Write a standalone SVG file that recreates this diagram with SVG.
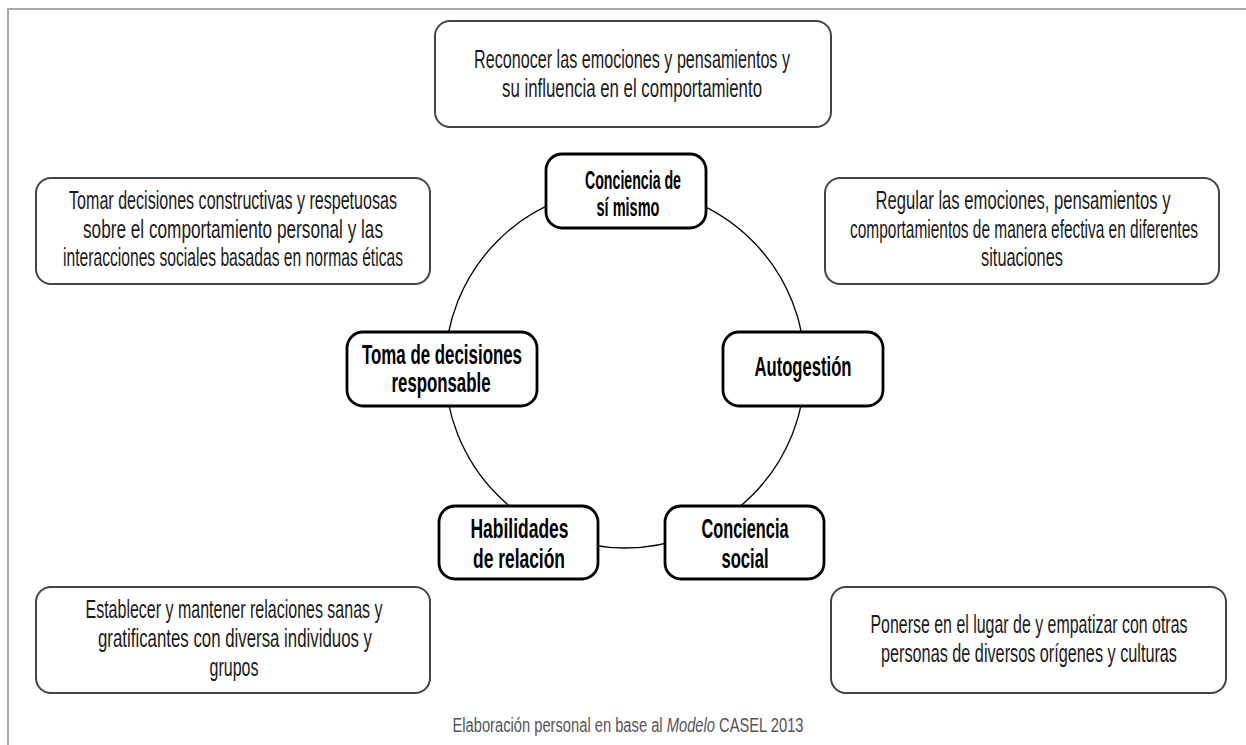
<svg xmlns="http://www.w3.org/2000/svg" width="1246" height="745" viewBox="0 0 1246 745">
<style>
.frame{fill:none;stroke:#a8a8a8;stroke-width:2}
.desc rect{fill:#fff;stroke:#444;stroke-width:2}
.node rect{fill:#fff;stroke:#000;stroke-width:2.8}
.dt{font-family:"Liberation Sans",Arial,sans-serif;font-size:25px;fill:#1a1a1a;text-anchor:middle}
.nt{font-family:"Liberation Sans",Arial,sans-serif;font-weight:bold;font-size:28px;fill:#000;text-anchor:middle}
.nt1{font-size:25px}
.ft{font-family:"Liberation Sans",Arial,sans-serif;font-size:20px;fill:#555;text-anchor:middle}
.conn{fill:none;stroke:#000;stroke-width:1.3}
</style>
<rect width="1246" height="745" fill="#fff"/>
<path class="frame" d="M8,745 V9 H1246"/>
<g id="connectors">
<circle class="conn" cx="625" cy="368" r="180"/>
</g>
<g id="desc-top" class="desc">
<rect x="435" y="21" width="396" height="106" rx="15"/>
<text class="dt" x="632" y="68" textLength="316" lengthAdjust="spacingAndGlyphs">Reconocer las emociones y pensamientos y</text>
<text class="dt" x="632" y="97" textLength="260" lengthAdjust="spacingAndGlyphs">su influencia en el comportamiento</text>
</g>
<g id="desc-left-top" class="desc">
<rect x="36" y="178" width="394" height="106" rx="15"/>
<text class="dt" x="233" y="209" textLength="328" lengthAdjust="spacingAndGlyphs">Tomar decisiones constructivas y respetuosas</text>
<text class="dt" x="233" y="237.5" textLength="300" lengthAdjust="spacingAndGlyphs">sobre el comportamiento personal y las</text>
<text class="dt" x="233" y="266" textLength="340" lengthAdjust="spacingAndGlyphs">interacciones sociales basadas en normas éticas</text>
</g>
<g id="desc-right-top" class="desc">
<rect x="825" y="178" width="394" height="106" rx="15"/>
<text class="dt" x="1023" y="209" textLength="295" lengthAdjust="spacingAndGlyphs">Regular las emociones, pensamientos y</text>
<text class="dt" x="1024" y="237.5" textLength="348" lengthAdjust="spacingAndGlyphs">comportamientos de manera efectiva en diferentes</text>
<text class="dt" x="1022" y="266" textLength="82" lengthAdjust="spacingAndGlyphs">situaciones</text>
</g>
<g id="desc-left-bottom" class="desc">
<rect x="36" y="587" width="394" height="106" rx="15"/>
<text class="dt" x="234" y="618" textLength="297" lengthAdjust="spacingAndGlyphs">Establecer y mantener relaciones sanas y</text>
<text class="dt" x="235" y="647" textLength="274" lengthAdjust="spacingAndGlyphs">gratificantes con diversa individuos y</text>
<text class="dt" x="234" y="676" textLength="49" lengthAdjust="spacingAndGlyphs">grupos</text>
</g>
<g id="desc-right-bottom" class="desc">
<rect x="831" y="587" width="395" height="106" rx="15"/>
<text class="dt" x="1029" y="633" textLength="317" lengthAdjust="spacingAndGlyphs">Ponerse en el lugar de y empatizar con otras</text>
<text class="dt" x="1029" y="662" textLength="296" lengthAdjust="spacingAndGlyphs">personas de diversos orígenes y culturas</text>
</g>
<g id="node-conciencia-si" class="node">
<rect x="546" y="154" width="160" height="74" rx="16"/>
<text class="nt nt1" x="633" y="189" textLength="96" lengthAdjust="spacingAndGlyphs">Conciencia de</text>
<text class="nt nt1" x="628" y="216" textLength="63" lengthAdjust="spacingAndGlyphs">sí mismo</text>
</g>
<g id="node-toma" class="node">
<rect x="347" y="332" width="190" height="74" rx="16"/>
<text class="nt" x="442" y="364" textLength="160" lengthAdjust="spacingAndGlyphs">Toma de decisiones</text>
<text class="nt" x="441" y="392" textLength="99" lengthAdjust="spacingAndGlyphs">responsable</text>
</g>
<g id="node-autogestion" class="node">
<rect x="723" y="332" width="160" height="74" rx="16"/>
<text class="nt" x="803" y="376" textLength="97" lengthAdjust="spacingAndGlyphs">Autogestión</text>
</g>
<g id="node-habilidades" class="node">
<rect x="439" y="506" width="159" height="73" rx="16"/>
<text class="nt" x="519.5" y="538" textLength="98" lengthAdjust="spacingAndGlyphs">Habilidades</text>
<text class="nt" x="519" y="568" textLength="92" lengthAdjust="spacingAndGlyphs">de relación</text>
</g>
<g id="node-conciencia-social" class="node">
<rect x="665" y="506" width="159" height="73" rx="16"/>
<text class="nt" x="745" y="538" textLength="87" lengthAdjust="spacingAndGlyphs">Conciencia</text>
<text class="nt" x="745" y="568" textLength="47" lengthAdjust="spacingAndGlyphs">social</text>
</g>
<g id="footer">
<text class="ft" transform="translate(628,732) scale(0.736,1)" x="0" y="0">Elaboración personal en base al <tspan font-style="italic">Modelo</tspan> CASEL 2013</text>
</g>
</svg>
